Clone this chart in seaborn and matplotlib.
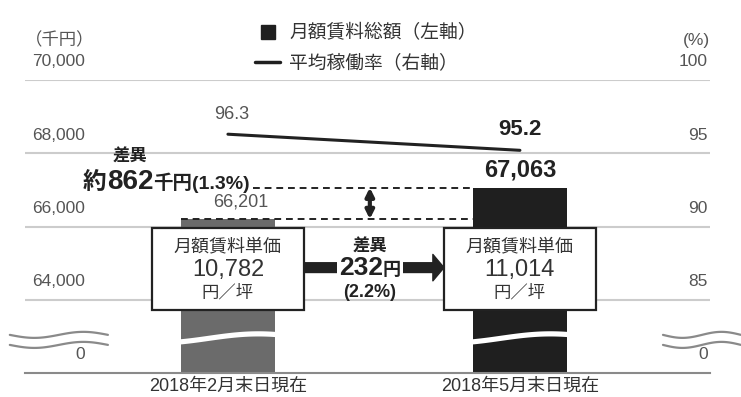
import matplotlib
matplotlib.use("Agg")
import matplotlib.pyplot as plt
import matplotlib.transforms as mtransforms
from matplotlib.patches import Rectangle, FancyArrowPatch, ArrowStyle
from matplotlib.lines import Line2D
from matplotlib.offsetbox import TextArea, HPacker, AnnotationBbox
import numpy as np
import pandas as pd
import seaborn as sns

# ---- data -------------------------------------------------------------
periods = ["2018年2月末日現在", "2018年5月末日現在"]
rent_total = [66201, 67063]        # 月額賃料総額（千円）
occupancy = [96.3, 95.2]           # 平均稼働率（%）
unit_rent = [10782, 11014]         # 月額賃料単価（円／坪）
left_ticks = [62000, 64000, 66000, 68000, 70000]
left_tick_labels = ["0", "64,000", "66,000", "68,000", "70,000"]
right_ticks = [80, 85, 90, 95, 100]
right_tick_labels = ["0", "85", "90", "95", "100"]
legend_labels = ["月額賃料総額（左軸）", "平均稼働率（右軸）"]
bar_colors = ["#6b6b6b", "#1f1f1f"]

sns.set_theme(style="white")
plt.rcParams["font.family"] = ["Liberation Sans", "Noto Sans CJK JP", "DejaVu Sans"]

W, H = 741, 397
fig = plt.figure(figsize=(W / 100, H / 100), dpi=100)
ax = fig.add_axes([25 / W, 24 / H, 685 / W, 293 / H])

df = pd.DataFrame({"period": periods, "total": rent_total})
sns.barplot(data=df, x="period", y="total", hue="period", palette=bar_colors,
            width=0.322, saturation=1, legend=False, linewidth=0, ax=ax, zorder=2)

ax.set_ylim(left_ticks[0], left_ticks[-1])
ax.set_xlabel("")
ax.set_ylabel("")
ax.set_yticks([])
for s in ["top", "left", "right"]:
    ax.spines[s].set_visible(False)
ax.spines["bottom"].set_color("#8a8a8a")
ax.spines["bottom"].set_linewidth(1.5)
ax.tick_params(axis="x", length=0, pad=3.5, labelsize=13, labelcolor="#333333")
for y in left_ticks[1:]:
    ax.axhline(y, color="#cccccc", lw=1.5, zorder=1)

# occupancy line on the right axis
ax2 = ax.twinx()
sns.lineplot(x=[0, 1], y=occupancy, ax=ax2, color="#222222", lw=2.2, zorder=4)
ax2.set_ylim(right_ticks[0], right_ticks[-1])
ax2.set_yticks([])
ax2.set_ylabel("")
for s in ax2.spines.values():
    s.set_visible(False)

ax.set_xlim(-0.695, 1.651)

# tick labels sit just above their gridlines
tl = mtransforms.blended_transform_factory(ax.transAxes, ax.transData)
for v, lab in zip(left_ticks, left_tick_labels):
    ax.annotate(lab, xy=(0.0876, v), xycoords=tl, xytext=(0, 13), textcoords="offset points",
                ha="right", va="center", fontsize=12.5, color="#555555")
tr = mtransforms.blended_transform_factory(ax2.transAxes, ax2.transData)
for v, lab in zip(right_ticks, right_tick_labels):
    ax2.annotate(lab, xy=(0.997, v), xycoords=tr, xytext=(0, 13), textcoords="offset points",
                 ha="right", va="center", fontsize=12.5, color="#555555")
fig.text(25 / W, 1 - 40 / H, "（千円）", ha="left", va="center", fontsize=12.5, color="#555555")
fig.text(710 / W, 1 - 40 / H, "(%)", ha="right", va="center", fontsize=12.5, color="#555555")

# value labels
ax2.annotate(f"{occupancy[0]}", xy=(0, occupancy[0]), xytext=(3, 14), textcoords="offset points",
             ha="center", va="center", fontsize=13, color="#555555")
ax2.annotate(f"{occupancy[1]}", xy=(1, occupancy[1]), xytext=(0, 15), textcoords="offset points",
             ha="center", va="center", fontsize=16, fontweight="bold", color="#222222")
ax2.annotate(f"{rent_total[1]:,}", xy=(1, rent_total[1]), xycoords=ax.transData, xytext=(0, 13),
             textcoords="offset points", ha="center", va="center", fontsize=17,
             fontweight="bold", color="#222222", zorder=7)
ax2.annotate(f"{rent_total[0]:,}", xy=(0, rent_total[0]), xycoords=ax.transData, xytext=(9, 12),
             textcoords="offset points", ha="center", va="center", fontsize=13,
             color="#555555", zorder=7)

# difference guide lines
dash = (0, (3.5, 2.5))
bar_half = 0.161
ax2.plot([0.086, 1 - bar_half], [rent_total[1]] * 2, transform=ax.transData,
         color="#222222", lw=1.4, ls=dash, zorder=5)
ax2.plot([-bar_half, 1 - bar_half], [rent_total[0]] * 2, transform=ax.transData,
         color="#222222", lw=1.4, ls=dash, zorder=5)
ax2.add_patch(FancyArrowPatch((0.486, rent_total[0]), (0.486, rent_total[1]),
                              transform=ax.transData, arrowstyle="<|-|>", mutation_scale=12,
                              lw=3, color="#222222", shrinkA=0, shrinkB=0, zorder=6))

diff_total = rent_total[1] - rent_total[0]
diff_total_pct = diff_total / rent_total[0] * 100
ax2.text(-0.336, 67918, "差異", transform=ax.transData, ha="center", va="center",
         fontsize=12.5, fontweight="bold", color="#222222", zorder=7)
pk = HPacker(children=[TextArea("約", textprops=dict(fontsize=17, fontweight="bold", color="#222222")),
                       TextArea(f"{diff_total}", textprops=dict(fontsize=20, fontweight="bold", color="#222222")),
                       TextArea(f"千円({diff_total_pct:.1f}%)", textprops=dict(fontsize=14, fontweight="bold", color="#222222"))],
             align="baseline", pad=0, sep=0)
ab = AnnotationBbox(pk, (0.075, 67210), xycoords=ax.transData, box_alignment=(1, 0.5),
                    frameon=False, pad=0)
ab.set_zorder(7)
ax2.add_artist(ab)

# unit rent boxes
box_half = 0.26
for i, v in enumerate(unit_rent):
    ax2.add_patch(Rectangle((i - box_half, 63730), 2 * box_half, 2240, transform=ax.transData,
                            facecolor="white", edgecolor="#222222", lw=1.6, zorder=8))
    ax2.text(i, 65452, "月額賃料単価", transform=ax.transData, ha="center", va="center",
             fontsize=13, color="#333333", zorder=9)
    ax2.text(i, 64822, f"{v:,}", transform=ax.transData, ha="center", va="center",
             fontsize=17, color="#333333", zorder=9)
    ax2.text(i, 64192, "円／坪", transform=ax.transData, ha="center", va="center",
             fontsize=12.5, color="#333333", zorder=9)

# arrow between the boxes
ax2.add_patch(FancyArrowPatch((box_half, 64877), (1 - box_half, 64877), transform=ax.transData,
                              arrowstyle=ArrowStyle.Simple(head_length=0.8, head_width=1.9, tail_width=0.7),
                              mutation_scale=10, color="#222222", shrinkA=0, shrinkB=0, zorder=7))
diff_unit = unit_rent[1] - unit_rent[0]
diff_unit_pct = diff_unit / unit_rent[0] * 100
ax2.text(0.486, 65452, "差異", transform=ax.transData, ha="center", va="center",
         fontsize=12.5, fontweight="bold", color="#222222", zorder=9)
pk2 = HPacker(children=[TextArea(f"{diff_unit}", textprops=dict(fontsize=19, fontweight="bold", color="#222222")),
                        TextArea("円", textprops=dict(fontsize=13, fontweight="bold", color="#222222"))],
              align="baseline", pad=0, sep=0)
ab2 = AnnotationBbox(pk2, (0.486, 64877), xycoords=ax.transData, box_alignment=(0.5, 0.5),
                     frameon=True, pad=0.15, bboxprops=dict(facecolor="white", edgecolor="none"))
ab2.set_zorder(9)
ax2.add_artist(ab2)
ax2.text(0.486, 64192, f"({diff_unit_pct:.1f}%)", transform=ax.transData, ha="center", va="center",
         fontsize=13, fontweight="bold", color="#222222", zorder=9)

# axis-break marks: white wave through each bar and grey waves at both sides
px = (left_ticks[1] - left_ticks[0]) / 73.0
def px_to_y(p):
    return left_ticks[0] + (373 - p) * px

for i in range(len(periods)):
    xs = np.linspace(i - bar_half - 0.01, i + bar_half + 0.01, 80)
    t = (xs - xs[0]) / (xs[-1] - xs[0])
    yc = px_to_y(338 - 4.5 * np.sin(np.pi * (t - 0.3)))
    ax.fill_between(xs, yc - 2.6 * px, yc + 2.6 * px, color="white", lw=0, zorder=3)

for x0, x1 in [(-0.747, -0.411), (1.49, 1.757)]:
    xs = np.linspace(x0, x1, 80)
    t = (xs - x0) / (x1 - x0)
    for base in (335, 345):
        ax.plot(xs, px_to_y(base + 3 * np.sin(2 * np.pi * t)), color="#8a8a8a", lw=1.6,
                clip_on=False, zorder=3)

# legend
handles = [Line2D([], [], marker="s", ls="none", ms=10, color="#1f1f1f"),
           Line2D([], [], color="#1f1f1f", lw=2.5)]
fig.legend(handles, legend_labels, loc="upper left", bbox_to_anchor=(246 / W, 1 - 15 / H),
           frameon=False, fontsize=13.5, handlelength=1.3, handletextpad=0.5,
           labelspacing=0.65, borderpad=0, labelcolor="#333333")

fig.savefig("out.png", dpi=100, facecolor="white")
